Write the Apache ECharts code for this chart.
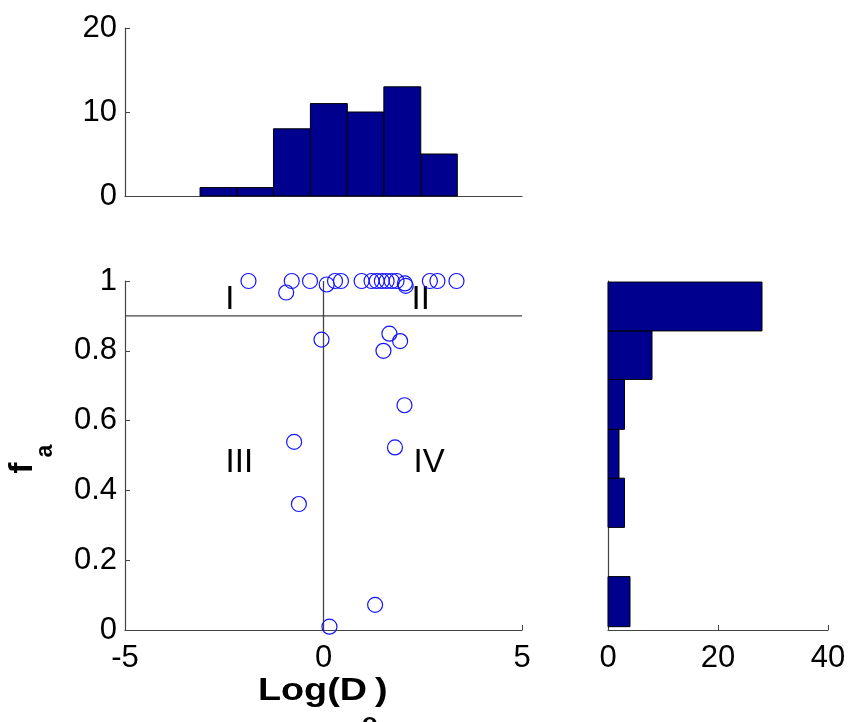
<!DOCTYPE html>
<html>
<head>
<meta charset="utf-8">
<script src="https://cdn.jsdelivr.net/npm/echarts@6/dist/echarts.min.js"></script>
<style>
html,body{margin:0;padding:0;background:#fff;}
#chart{width:850px;height:722px;}
</style>
</head>
<body>
<div id="chart"></div>
<script>
// ---- data ----
const scatterX = [-1.89, -0.80, -0.94, -0.34, 0.08, 0.29, 0.44, 0.96, 1.21, 1.34, 1.47, 1.59, 1.72, 1.84, 2.05, 2.07, 2.68, 2.87, 3.35,
                  -0.05, 1.66, 1.93, 1.51, 2.04, 1.80, -0.74, -0.62, 1.30, 0.15];
const scatterY = [1.0, 1.0, 0.967, 1.0, 0.99, 1.0, 1.0, 1.0, 1.0, 1.0, 1.0, 1.0, 1.0, 1.0, 0.993, 0.986, 1.0, 1.0, 1.0,
                  0.832, 0.849, 0.828, 0.80, 0.644, 0.523, 0.539, 0.361, 0.072, 0.0095];

const topBinEdges = [-3.11, -2.18, -1.26, -0.33, 0.60, 1.52, 2.45, 3.37];
const topCounts = [1, 1, 8, 11, 10, 13, 5];

const rightBinEdges = [0.0095, 0.153, 0.294, 0.435, 0.575, 0.718, 0.857, 0.997];
const rightCounts = [4, 0, 3, 2, 3, 8, 28];

const quadrantNames = ['I', 'II', 'III', 'IV'];
const quadrantX = [-2.36, 2.45, -2.12, 2.66];
const quadrantY = [0.946, 0.945, 0.479, 0.479];

const hLineY = 0.9;   // horizontal divider
const vLineX = 0;     // vertical divider

const xTicksMain = [-5, 0, 5];
const yTicksMain = [0, 0.2, 0.4, 0.6, 0.8, 1];
const yTicksTop = [0, 10, 20];
const xTicksRight = [0, 20, 40];

// ---- chart ----
const FONT = "'Liberation Sans', Arial, Helvetica, sans-serif";
const AX = '#444';
const BAR = '#00008f';
const chart = echarts.init(document.getElementById('chart'), null, {renderer: 'canvas'});

const LABEL = {color: '#000', fontSize: 31, fontFamily: FONT};
function ax(extra) {
  return Object.assign({
    type: 'value',
    axisLine: {show: true, onZero: false, lineStyle: {color: AX, width: 1.2}},
    axisTick: {show: true, inside: true, length: 5, lineStyle: {color: AX}},
    splitLine: {show: false},
    axisLabel: Object.assign({}, LABEL)
  }, extra);
}

const topData = topCounts.map((c, i) => [topBinEdges[i], topBinEdges[i + 1], c]);
const rightData = rightCounts.map((c, i) => [c, rightBinEdges[i], rightBinEdges[i + 1]]);

const option = {
  animation: false,
  backgroundColor: '#fff',
  grid: [
    {left: 125, top: 281, width: 397, height: 349, containLabel: false},
    {left: 125, top: 28, width: 397, height: 168, containLabel: false},
    {left: 608, top: 281, width: 220, height: 349, containLabel: false}
  ],
  xAxis: [
    ax({gridIndex: 0, min: xTicksMain[0], max: xTicksMain[2], interval: 5,
      axisLabel: Object.assign({}, LABEL, {margin: 13})}),
    ax({gridIndex: 1, min: -5, max: 5, interval: 5, axisTick: {show: false}, axisLabel: {show: false}}),
    ax({gridIndex: 2, min: xTicksRight[0], max: xTicksRight[2], interval: 20,
      axisLabel: Object.assign({}, LABEL, {margin: 13})})
  ],
  yAxis: [
    ax({gridIndex: 0, min: yTicksMain[0], max: 1, interval: 0.2,
      axisLabel: Object.assign({}, LABEL, {margin: 8})}),
    ax({gridIndex: 1, min: yTicksTop[0], max: yTicksTop[2], interval: 10,
      axisLabel: Object.assign({}, LABEL, {margin: 8})}),
    ax({gridIndex: 2, min: 0, max: 1, axisTick: {show: false}, axisLabel: {show: false}})
  ],
  series: [
    {
      type: 'line', xAxisIndex: 0, yAxisIndex: 0, symbol: 'none', silent: true,
      lineStyle: {color: AX, width: 1.3},
      data: [[-5, hLineY], [5, hLineY]], z: 1
    },
    {
      type: 'line', xAxisIndex: 0, yAxisIndex: 0, symbol: 'none', silent: true,
      lineStyle: {color: AX, width: 1.3},
      data: [[vLineX, 0], [vLineX, 1]], z: 1
    },
    {
      type: 'scatter', xAxisIndex: 0, yAxisIndex: 0,
      symbol: 'circle', symbolSize: 15,
      itemStyle: {color: 'rgba(0,0,0,0)', borderColor: '#1414ff', borderWidth: 1.2, opacity: 1},
      data: scatterX.map((x, i) => [x, scatterY[i]]), z: 3
    },
    {
      type: 'scatter', xAxisIndex: 0, yAxisIndex: 0, symbolSize: 1, silent: true,
      itemStyle: {color: 'rgba(0,0,0,0)', opacity: 1},
      label: {show: true, position: 'inside', formatter: p => p.data.name,
        color: '#000', fontSize: 33, fontFamily: FONT, opacity: 1},
      data: quadrantNames.map((n, i) => ({name: n, value: [quadrantX[i], quadrantY[i]]})), z: 2
    },
    {
      type: 'custom', xAxisIndex: 1, yAxisIndex: 1,
      encode: {x: [0, 1], y: 2},
      data: topData,
      renderItem: (params, api) => {
        const p0 = api.coord([api.value(0), 0]);
        const p1 = api.coord([api.value(1), api.value(2)]);
        return {type: 'rect', shape: {x: p0[0], y: p1[1], width: p1[0] - p0[0], height: p0[1] - p1[1]},
          style: {fill: BAR, stroke: '#000', lineWidth: 1}};
      }
    },
    {
      type: 'custom', xAxisIndex: 2, yAxisIndex: 2,
      encode: {x: 0, y: [1, 2]},
      data: rightData,
      renderItem: (params, api) => {
        if (api.value(0) <= 0) return null;
        const p0 = api.coord([0, api.value(1)]);
        const p1 = api.coord([api.value(0), api.value(2)]);
        return {type: 'rect', shape: {x: p0[0], y: p1[1], width: p1[0] - p0[0], height: p0[1] - p1[1]},
          style: {fill: BAR, stroke: '#000', lineWidth: 1}};
      }
    }
  ],
  graphic: [
    {type: 'text', x: 367, y: 691, scaleX: 1.18, style: {text: 'Log(D', fontSize: 32, fontWeight: 'bold', fontFamily: FONT, fill: '#000', align: 'right', verticalAlign: 'middle'}},
    {type: 'text', x: 362, y: 724, scaleX: 1.1, style: {text: 'o', fontSize: 23, fontWeight: 'bold', fontFamily: FONT, fill: '#000', align: 'left', verticalAlign: 'middle'}},
    {type: 'text', x: 375, y: 691, scaleX: 1.18, style: {text: ')', fontSize: 32, fontWeight: 'bold', fontFamily: FONT, fill: '#000', align: 'left', verticalAlign: 'middle'}},
    {type: 'text', x: 23, y: 468, rotation: Math.PI / 2, style: {text: 'f', fontSize: 33, fontWeight: 'bold', fontFamily: FONT, fill: '#000', align: 'center', verticalAlign: 'middle'}},
    {type: 'text', x: 46, y: 451, rotation: Math.PI / 2, style: {text: 'a', fontSize: 23, fontWeight: 'bold', fontFamily: FONT, fill: '#000', align: 'center', verticalAlign: 'middle'}}
  ]
};
chart.setOption(option);
</script>
</body>
</html>
